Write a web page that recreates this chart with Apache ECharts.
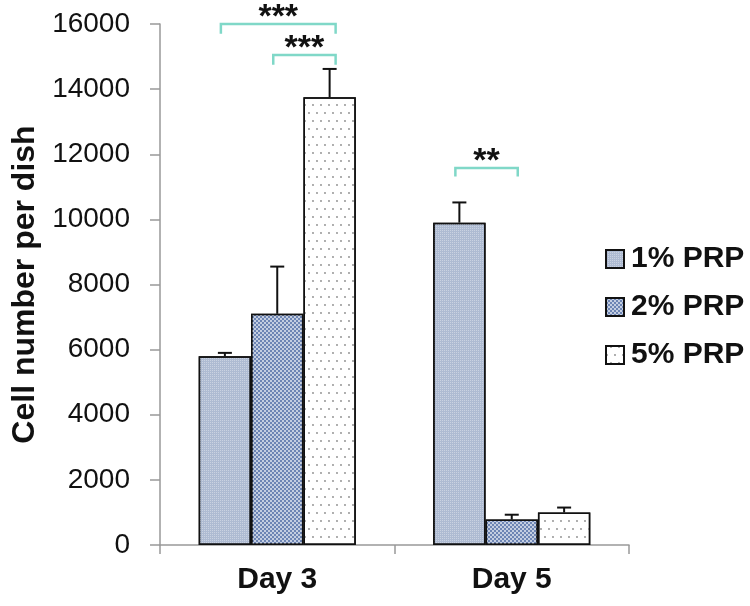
<!DOCTYPE html>
<html>
<head>
<meta charset="utf-8">
<script src="https://cdn.jsdelivr.net/npm/echarts@6/dist/echarts.min.js"></script>
<style>html,body{margin:0;padding:0;background:#fff}#c{width:750px;height:606px}</style>
</head>
<body>
<div id="c"></div>
<script>
var categories = ['Day 3', 'Day 5'];
var seriesNames = ['1% PRP', '2% PRP', '5% PRP'];
var prp1 = [5800, 9900];
var prp2 = [7100, 780];
var prp5 = [13750, 1000];
var err1 = [100, 620];
var err2 = [1450, 150];
var err5 = [870, 150];
var yTicks = [0, 2000, 4000, 6000, 8000, 10000, 12000, 14000, 16000];
// significance brackets: [category, fromSeries, toSeries, topValue, legEndValue]
var brackets = [[0, 0, 2, 16000, 15700], [0, 1, 2, 15050, 14750], [1, 0, 1, 11580, 11320]];
var bracketLabels = ['***', '***', '**'];

var FONT = 'Arial, "Liberation Sans", sans-serif';
var GAP = 0.33;

var values = [prp1, prp2, prp5];
var errs = [err1, err2, err5];
var errData = [];
for (var s = 0; s < 3; s++) {
  for (var c = 0; c < categories.length; c++) {
    errData.push([c, values[s][c], errs[s][c], s]);
  }
}

var decals = [
  {symbol: 'rect', symbolSize: 1, dashArrayX: [1, 1], dashArrayY: [1, 1], color: 'rgba(255,255,255,0.35)'},
  {symbol: 'circle', symbolSize: 1, dashArrayX: [[2, 2], [0, 2, 2, 0]], dashArrayY: [2, 0], color: 'rgba(255,255,255,0.8)'},
  {symbol: 'circle', symbolSize: 0.9, dashArrayX: [[2, 6], [0, 4, 2, 2]], dashArrayY: [2, 6], color: '#8a8a8a'}
];
var fills = ['#aebbd2', '#6d85b4', '#ffffff'];

var barSeries = seriesNames.map(function (n, i) {
  return {
    name: n,
    type: 'bar',
    data: values[i],
    barGap: '0%',
    barCategoryGap: (GAP * 100) + '%',
    itemStyle: {color: fills[i], borderColor: '#111', borderWidth: 1.5, decal: decals[i]}
  };
});

function barWidth(api) {
  var catW = api.size([1, 0])[0];
  return catW * (1 - GAP) / 3;
}

var option = {
  animation: false,
  aria: {enabled: false, decal: {show: true}},
  grid: {left: 160, right: 121, top: 24, bottom: 61, outerBoundsMode: 'none', containLabel: false},
  legend: {
    orient: 'vertical',
    left: 600,
    top: 239,
    icon: 'rect',
    itemWidth: 18,
    itemHeight: 18,
    itemGap: 18,
    data: seriesNames,
    textStyle: {fontFamily: FONT, fontSize: 30, fontWeight: 'bold', color: '#111', lineHeight: 30, padding: [0, 0, 0, 2]}
  },
  xAxis: {
    type: 'category',
    data: categories,
    axisLine: {lineStyle: {color: '#999', width: 1.5}},
    axisTick: {show: true, length: 9, lineStyle: {color: '#999', width: 1.5}},
    axisLabel: {fontFamily: FONT, fontSize: 30, fontWeight: 'bold', color: '#111', margin: 20}
  },
  yAxis: {
    type: 'value',
    min: yTicks[0],
    max: yTicks[yTicks.length - 1],
    interval: 2000,
    name: 'Cell number per dish',
    nameLocation: 'middle',
    nameGap: 118,
    nameTextStyle: {fontFamily: FONT, fontSize: 32, fontWeight: 'bold', color: '#111'},
    axisLine: {show: true, lineStyle: {color: '#999', width: 1.5}},
    axisTick: {show: true, length: 10, lineStyle: {color: '#999', width: 1.5}},
    splitLine: {show: false},
    axisLabel: {fontFamily: FONT, fontSize: 28, color: '#111', margin: 30, formatter: function (v) { return String(v); }}
  },
  series: barSeries.concat([
    {
      type: 'custom',
      data: errData,
      z: 5,
      renderItem: function (params, api) {
        var cat = api.value(0), v = api.value(1), e = api.value(2), s = api.value(3);
        var bw = barWidth(api);
        var base = api.coord([cat, v]);
        var top = api.coord([cat, v + e]);
        var x = base[0] + (s - 1) * bw;
        var st = {stroke: '#111', lineWidth: 2};
        return {type: 'group', children: [
          {type: 'line', shape: {x1: x, y1: base[1], x2: x, y2: top[1]}, style: st},
          {type: 'line', shape: {x1: x - 7, y1: top[1], x2: x + 7, y2: top[1]}, style: st}
        ]};
      }
    },
    {
      type: 'custom',
      data: brackets,
      z: 6,
      clip: false,
      renderItem: function (params, api) {
        var cat = api.value(0), a = api.value(1), b = api.value(2), t = api.value(3), l = api.value(4);
        var bw = barWidth(api);
        var p = api.coord([cat, t]);
        var q = api.coord([cat, l]);
        var x1 = p[0] + (a - 1) * bw - 4;
        var x2 = p[0] + (b - 1) * bw + 6;
        var st = {stroke: '#80d8c8', lineWidth: 2.5, fill: null};
        return {type: 'group', children: [
          {type: 'polyline', shape: {points: [[x1, q[1]], [x1, p[1]], [x2, p[1]], [x2, q[1]]]}, style: st},
          {type: 'text', x: (x1 + x2) / 2, y: p[1] - 6, style: {text: bracketLabels[params.dataIndex], fontFamily: FONT, fontSize: 34, fontWeight: 'bold', fill: '#111', align: 'center', verticalAlign: 'middle'}}
        ]};
      }
    }
  ])
};

var chart = echarts.init(document.getElementById('c'), null, {renderer: 'canvas'});
chart.setOption(option);
</script>
</body>
</html>
